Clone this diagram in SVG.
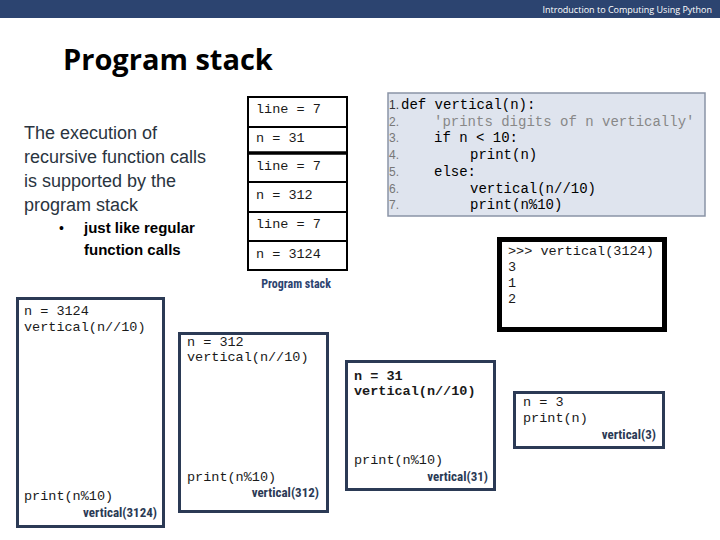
<svg xmlns="http://www.w3.org/2000/svg" width="720" height="540" viewBox="0 0 720 540">
<style>
.mono{font-family:"Liberation Mono","DejaVu Sans Mono",monospace;font-size:13.5px;fill:#1a1a1a}
.code{font-family:"Liberation Mono","DejaVu Sans Mono",monospace;font-size:14px;fill:#000}
.frame{fill:#fff;stroke:#2b3a55;stroke-width:3}
.lbl{font-family:"Liberation Sans Narrow","Roboto Condensed","Liberation Sans",sans-serif;font-weight:bold;font-size:13px;fill:#2b3a55;text-anchor:end}
.cell{fill:#fff;stroke:#000;stroke-width:2}
.ln{font-family:"Liberation Sans",sans-serif;font-size:12px;fill:#777}
</style>
<rect x="0" y="0" width="720" height="540" fill="#fff"/>
<g id="header">
<rect x="0" y="0" width="720" height="18" fill="#2c4470"/>
<text x="712" y="12.5" text-anchor="end" font-family="Open Sans, Liberation Sans, sans-serif" font-size="9" fill="#fff">Introduction to Computing Using Python</text>
</g>
<text x="63" y="70" font-family="Open Sans, Liberation Sans, sans-serif" font-weight="bold" font-size="29" fill="#000">Program stack</text>
<g id="intro" font-family="Liberation Sans, sans-serif">
<text font-size="18" fill="#2a3440">
<tspan x="24" y="139">The execution of</tspan>
<tspan x="24" y="163">recursive function calls</tspan>
<tspan x="24" y="187">is supported by the</tspan>
<tspan x="24" y="211">program stack</tspan>
</text>
<text x="59" y="233" font-size="14" fill="#000">•</text>
<text font-size="15" font-weight="bold" fill="#000">
<tspan x="84" y="233">just like regular</tspan>
<tspan x="84" y="255">function calls</tspan>
</text>
</g>
<g id="program-stack">
<rect class="cell" x="248" y="97" width="99" height="30"/>
<rect class="cell" x="248" y="127" width="99" height="26"/>
<rect class="cell" x="248" y="153" width="99" height="29"/>
<rect class="cell" x="248" y="182" width="99" height="30"/>
<rect class="cell" x="248" y="212" width="99" height="29"/>
<rect class="cell" x="248" y="241" width="99" height="29"/>
<line x1="248" y1="153" x2="347" y2="153" stroke="#000" stroke-width="3.5"/>
<text class="mono" x="256" y="113">line = 7</text>
<text class="mono" x="256" y="142">n = 31</text>
<text class="mono" x="256" y="170">line = 7</text>
<text class="mono" x="256" y="199">n = 312</text>
<text class="mono" x="256" y="228">line = 7</text>
<text class="mono" x="256" y="258">n = 3124</text>
<text x="296" y="288" text-anchor="middle" font-family="Liberation Sans Narrow, Roboto Condensed, Liberation Sans, sans-serif" font-weight="bold" font-size="12" fill="#2c4470">Program stack</text>
</g>
<g id="code">
<rect x="388" y="93" width="317" height="123" fill="#dfe4ee" stroke="#8a94a6" stroke-width="1.5"/>
<text class="ln" x="389" y="109" style="fill:#333">1.</text>
<text class="ln" x="389" y="126">2.</text>
<text class="ln" x="389" y="142">3.</text>
<text class="ln" x="389" y="159">4.</text>
<text class="ln" x="389" y="176">5.</text>
<text class="ln" x="389" y="193">6.</text>
<text class="ln" x="389" y="209">7.</text>
<text class="code" x="401" y="109">def vertical(n):</text>
<text class="code" x="434" y="126" style="fill:#888">'prints digits of n vertically'</text>
<text class="code" x="434" y="142">if n &lt; 10:</text>
<text class="code" x="470" y="159">print(n)</text>
<text class="code" x="434" y="176">else:</text>
<text class="code" x="470" y="193">vertical(n//10)</text>
<text class="code" x="470" y="209">print(n%10)</text>
</g>
<g id="shell">
<rect x="499.5" y="239.5" width="165" height="90" fill="#fff" stroke="#000" stroke-width="5"/>
<text class="mono" x="508" y="255">&gt;&gt;&gt; vertical(3124)</text>
<text class="mono" x="508" y="271">3</text>
<text class="mono" x="508" y="287">1</text>
<text class="mono" x="508" y="303">2</text>
</g>
<g id="frame-3124">
<rect class="frame" x="17.5" y="298.5" width="146" height="228"/>
<text class="mono" x="24" y="315">n = 3124</text>
<text class="mono" x="24" y="331">vertical(n//10)</text>
<text class="mono" x="24" y="500">print(n%10)</text>
<text class="lbl" x="157" y="517">vertical(3124)</text>
</g>
<g id="frame-312">
<rect class="frame" x="179.5" y="333.5" width="148" height="178"/>
<text class="mono" x="187" y="346">n = 312</text>
<text class="mono" x="187" y="361">vertical(n//10)</text>
<text class="mono" x="187" y="481">print(n%10)</text>
<text class="lbl" x="319" y="497">vertical(312)</text>
</g>
<g id="frame-31">
<rect class="frame" x="346.5" y="361.5" width="148" height="128"/>
<text class="mono" x="354" y="380" font-weight="bold">n = 31</text>
<text class="mono" x="354" y="395" font-weight="bold">vertical(n//10)</text>
<text class="mono" x="354" y="464">print(n%10)</text>
<text class="lbl" x="488" y="481">vertical(31)</text>
</g>
<g id="frame-3">
<rect class="frame" x="514.5" y="392.5" width="149" height="55"/>
<text class="mono" x="523" y="406">n = 3</text>
<text class="mono" x="523" y="422">print(n)</text>
<text class="lbl" x="656" y="439">vertical(3)</text>
</g>
<g id="connectors"/>
</svg>
